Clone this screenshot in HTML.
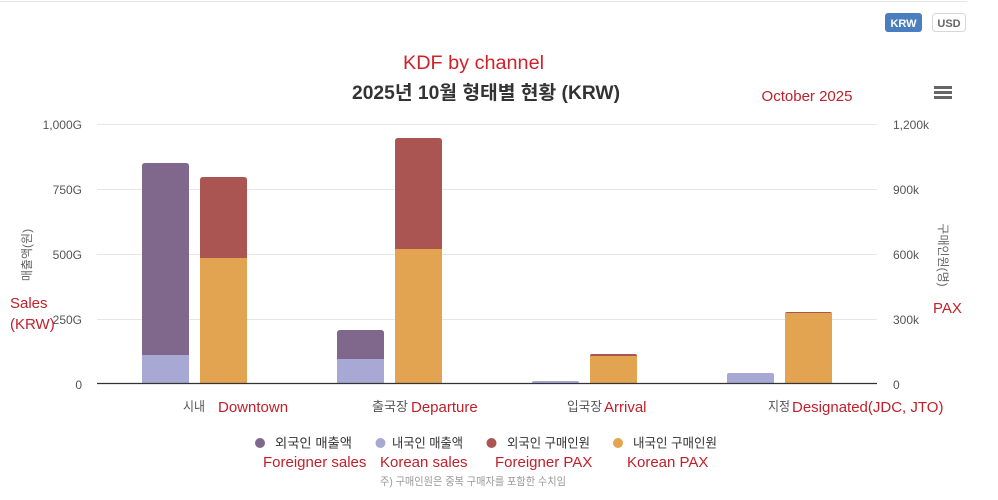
<!DOCTYPE html>
<html>
<head>
<meta charset="utf-8">
<style>
html,body{margin:0;padding:0;background:#fff;}
body{width:998px;height:500px;overflow:hidden;position:relative;font-family:"Liberation Sans","Noto Sans CJK KR",sans-serif;}
svg{position:absolute;left:0;top:0;}
</style>
</head>
<body>
<svg width="998" height="500" viewBox="0 0 998 500" xmlns="http://www.w3.org/2000/svg" font-family="Liberation Sans, Noto Sans CJK KR, sans-serif">
  <!-- top border -->
  <line x1="0" y1="1.5" x2="967" y2="1.5" stroke="#e6e6e6" stroke-width="1"/>
  <!-- buttons -->
  <rect x="885" y="13" width="37" height="19" rx="3" fill="#4a7ebf"/>
  <text x="903.5" y="27" font-size="11" font-weight="bold" fill="#fff" text-anchor="middle">KRW</text>
  <rect x="932.5" y="13.5" width="33" height="18" rx="3" fill="#fff" stroke="#d8d8d8"/>
  <text x="949" y="27" font-size="11" font-weight="bold" fill="#666" text-anchor="middle">USD</text>

  <!-- titles -->
  <text x="403" y="69" font-size="19" fill="#d0202a" textLength="141" lengthAdjust="spacingAndGlyphs">KDF by channel</text>
  <text x="352" y="99" font-size="19" font-weight="bold" fill="#333" textLength="268" lengthAdjust="spacingAndGlyphs">2025년 10월 형태별 현황 (KRW)</text>
  <text x="807" y="101" font-size="15" fill="#c0202a" text-anchor="middle">October 2025</text>
  <!-- hamburger -->
  <rect x="934" y="86" width="18" height="3" fill="#666"/>
  <rect x="934" y="91" width="18" height="3" fill="#666"/>
  <rect x="934" y="96" width="18" height="3" fill="#666"/>

  <!-- gridlines -->
  <g stroke="#e6e6e6" stroke-width="1">
    <line x1="97" y1="124.5" x2="877" y2="124.5"/>
    <line x1="97" y1="189.5" x2="877" y2="189.5"/>
    <line x1="97" y1="254.5" x2="877" y2="254.5"/>
    <line x1="97" y1="319.5" x2="877" y2="319.5"/>
  </g>

  <!-- left axis labels -->
  <g font-size="12" fill="#555" text-anchor="end">
    <text x="82" y="129">1,000G</text>
    <text x="82" y="194">750G</text>
    <text x="82" y="259">500G</text>
    <text x="82" y="324">250G</text>
    <text x="82" y="389">0</text>
  </g>
  <!-- right axis labels -->
  <g font-size="12" fill="#555" text-anchor="start">
    <text x="893" y="129">1,200k</text>
    <text x="893" y="194">900k</text>
    <text x="893" y="259">600k</text>
    <text x="893" y="324">300k</text>
    <text x="893" y="389">0</text>
  </g>
  <!-- axis titles -->
  <text transform="translate(31,255) rotate(-90)" font-size="12" fill="#666" text-anchor="middle">매출액(원)</text>
  <text transform="translate(939,255) rotate(90)" font-size="12" fill="#666" text-anchor="middle">구매인원(명)</text>

  <!-- annotations -->
  <text x="10" y="308" font-size="15" fill="#c0202a">Sales</text>
  <text x="10" y="329" font-size="15" fill="#c0202a">(KRW)</text>
  <text x="933" y="313" font-size="15" fill="#c0202a">PAX</text>

  <!-- bars: Downtown -->
  <path d="M142,383 V166 Q142,163 145,163 H186 Q189,163 189,166 V383 Z" fill="#80688c"/>
  <rect x="142" y="355" width="47" height="28" fill="#a8a8d4"/>
  <path d="M200,383 V180 Q200,177 203,177 H244 Q247,177 247,180 V383 Z" fill="#ab5552"/>
  <rect x="200" y="258" width="47" height="125" fill="#e3a452"/>

  <!-- Departure -->
  <path d="M337,383 V333 Q337,330 340,330 H381 Q384,330 384,333 V383 Z" fill="#80688c"/>
  <rect x="337" y="359" width="47" height="24" fill="#a8a8d4"/>
  <path d="M395,383 V141 Q395,138 398,138 H439 Q442,138 442,141 V383 Z" fill="#ab5552"/>
  <rect x="395" y="249" width="47" height="134" fill="#e3a452"/>

  <!-- Arrival -->
  <path d="M532,383 V382.5 Q532,381 534,381 H577 Q579,381 579,382.5 V383 Z" fill="#a8a8d4"/>
  <path d="M590,383 V356 Q590,354 592,354 H635 Q637,354 637,356 V383 Z" fill="#ab5552"/>
  <rect x="590" y="356" width="47" height="27" fill="#e3a452"/>

  <!-- Designated -->
  <path d="M727,383 V375 Q727,373 729,373 H772 Q774,373 774,375 V383 Z" fill="#a8a8d4"/>
  <path d="M785,383 V314 Q785,312 787,312 H830 Q832,312 832,314 V383 Z" fill="#ab5552"/>
  <rect x="785" y="313" width="47" height="70" fill="#e3a452"/>

  <!-- axis line -->
  <line x1="97" y1="383.5" x2="877" y2="383.5" stroke="#333" stroke-width="1.3"/>

  <!-- category labels -->
  <g font-size="13" fill="#555">
    <text x="183" y="411" textLength="22" lengthAdjust="spacingAndGlyphs">시내</text>
    <text x="372" y="411" textLength="36" lengthAdjust="spacingAndGlyphs">출국장</text>
    <text x="567" y="411" textLength="35" lengthAdjust="spacingAndGlyphs">입국장</text>
    <text x="768" y="411" textLength="22" lengthAdjust="spacingAndGlyphs">지정</text>
  </g>
  <g font-size="15" fill="#c0202a">
    <text x="218" y="412">Downtown</text>
    <text x="411" y="412">Departure</text>
    <text x="604" y="412">Arrival</text>
    <text x="792" y="412">Designated(JDC, JTO)</text>
  </g>

  <!-- legend -->
  <circle cx="260" cy="443" r="5" fill="#80688c"/>
  <text x="275" y="447.5" font-size="13" fill="#333" textLength="77" lengthAdjust="spacingAndGlyphs">외국인 매출액</text>
  <circle cx="380.5" cy="443" r="5" fill="#a8a8d4"/>
  <text x="392" y="447.5" font-size="13" fill="#333" textLength="71" lengthAdjust="spacingAndGlyphs">내국인 매출액</text>
  <circle cx="491.5" cy="443" r="5" fill="#ab5552"/>
  <text x="507" y="447.5" font-size="13" fill="#333" textLength="83" lengthAdjust="spacingAndGlyphs">외국인 구매인원</text>
  <circle cx="618" cy="443" r="5" fill="#e3a452"/>
  <text x="633" y="447.5" font-size="13" fill="#333" textLength="84" lengthAdjust="spacingAndGlyphs">내국인 구매인원</text>

  <g font-size="15" fill="#c0202a">
    <text x="263" y="467">Foreigner sales</text>
    <text x="380" y="467">Korean sales</text>
    <text x="495" y="467">Foreigner PAX</text>
    <text x="627" y="467">Korean PAX</text>
  </g>
  <text x="473" y="485" font-size="11" fill="#999" text-anchor="middle" textLength="186" lengthAdjust="spacingAndGlyphs">주) 구매인원은 중복 구매자를 포함한 수치임</text>
</svg>
</body>
</html>
